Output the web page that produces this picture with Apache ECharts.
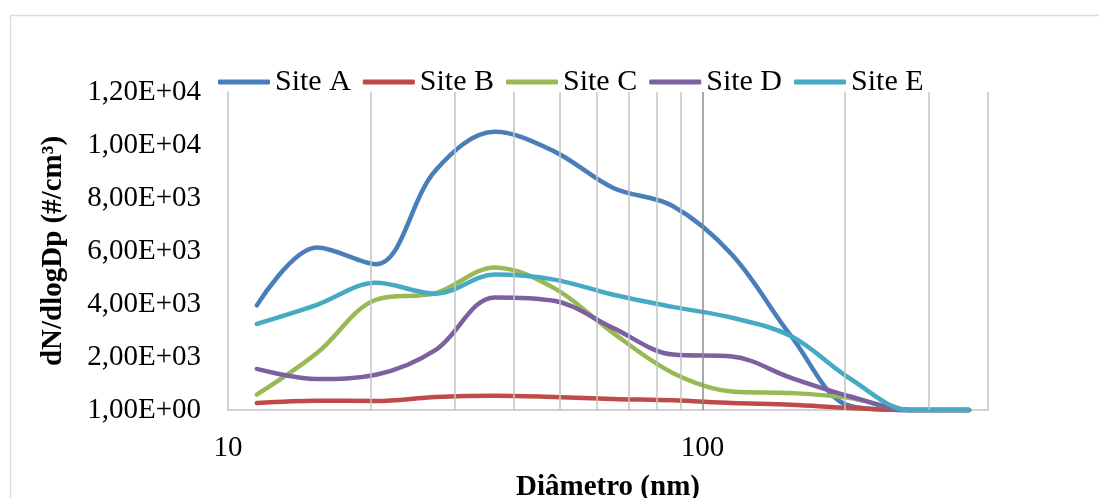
<!DOCTYPE html>
<html>
<head>
<meta charset="utf-8">
<script src="https://cdn.jsdelivr.net/npm/echarts@6/dist/echarts.min.js"></script>
<style>
html,body{margin:0;padding:0;background:#fff;}
#chart{width:1099px;height:498px;}
</style>
</head>
<body>
<div id="chart"></div>
<script>
// Diameters (nm)
var diameters = [11.5, 15.4, 20.5, 27.4, 36.5, 48.7, 64.9, 86.6, 115.5, 154, 205, 274, 365];
var siteNames = ['Site A', 'Site B', 'Site C', 'Site D', 'Site E'];
var siteA = [3950, 6130, 5500, 9050, 10500, 9760, 8380, 7700, 5860, 2780, 150, 0, 0];
var siteB = [260, 350, 340, 490, 540, 490, 415, 365, 265, 200, 75, 0, 0];
var siteC = [580, 2150, 4160, 4410, 5380, 4600, 2900, 1400, 700, 640, 450, 0, 0];
var siteD = [1550, 1170, 1330, 2270, 4250, 4120, 3090, 2090, 2020, 1210, 510, 0, 0];
var siteE = [3250, 3970, 4800, 4390, 5110, 4920, 4350, 3890, 3480, 2780, 1180, 0, 0];
var yTickLabels = ['1,00E+00', '2,00E+03', '4,00E+03', '6,00E+03', '8,00E+03', '1,00E+04', '1,20E+04'];
var minorGrid = [20, 30, 40, 50, 60, 70, 80, 90, 200, 300, 400];
var majorGrid = [100];
var colors = ['#4A7EBB', '#BE4B48', '#98B954', '#7D60A0', '#46AAC5'];

var FONT = "'Liberation Serif', 'Times New Roman', serif";
var chart = echarts.init(document.getElementById('chart'), null, {renderer: 'canvas'});

function pairs(vals) {
  return diameters.map(function (d, i) { return [d, vals[i]]; });
}
var allVals = [siteA, siteB, siteC, siteD, siteE];

var series = [{
  type: 'line',
  data: [],
  z: 1,
  silent: true,
  markLine: {
    silent: true,
    symbol: ['none', 'none'],
    label: {show: false},
    animation: false,
    lineStyle: {type: 'solid', color: '#c3c3c3', width: 1.5},
    data: minorGrid.map(function (v) { return {xAxis: v}; }).concat(
      majorGrid.map(function (v) { return {xAxis: v, lineStyle: {color: '#8c8c8c', width: 1.5, type: 'solid'}}; }))
  }
}];
siteNames.forEach(function (n, i) {
  series.push({
    name: n,
    type: 'line',
    data: pairs(allVals[i]),
    smooth: 0.35,
    symbol: 'none',
    clip: false,
    z: 3,
    lineStyle: {width: 4.5, color: colors[i], cap: 'round', join: 'round'},
    itemStyle: {color: colors[i]}
  });
});

chart.setOption({
  animation: false,
  backgroundColor: '#fff',
  graphic: [{
    type: 'rect',
    left: 8, top: 13,
    shape: {width: 1200, height: 600},
    style: {fill: 'none', stroke: '#d9d9d9', lineWidth: 1.3},
    silent: true
  }],
  legend: {
    data: siteNames,
    left: 213,
    top: 62,
    icon: 'roundRect',
    itemWidth: 52,
    itemHeight: 5,
    itemGap: 12,
    textStyle: {fontFamily: FONT, fontSize: 30, color: '#000'}
  },
  grid: {left: 228, right: 111, top: 92, bottom: 88, containLabel: false, outerBoundsMode: 'none'},
  xAxis: {
    type: 'log',
    logBase: 10,
    min: 10,
    max: 400,
    name: 'Diâmetro (nm)',
    nameLocation: 'middle',
    nameGap: 63,
    nameTextStyle: {fontFamily: FONT, fontSize: 29, fontWeight: 'bold', color: '#000'},
    axisLine: {show: true, lineStyle: {color: '#c3c3c3', width: 1.5}},
    axisTick: {show: false},
    splitLine: {show: false},
    axisLabel: {
      fontFamily: FONT, fontSize: 29, color: '#000', margin: 24,
      showMaxLabel: false,
      formatter: function (v) { return String(Math.round(v)); }
    }
  },
  yAxis: {
    type: 'value',
    min: 0,
    max: 12000,
    interval: 2000,
    name: 'dN/dlogDp (#/cm³)',
    nameLocation: 'middle',
    nameGap: 160,
    nameTextStyle: {fontFamily: FONT, fontSize: 29, fontWeight: 'bold', color: '#000'},
    axisLine: {show: true, lineStyle: {color: '#c3c3c3', width: 1.5}},
    axisTick: {show: false},
    splitLine: {show: false},
    axisLabel: {
      fontFamily: FONT, fontSize: 29, color: '#000', margin: 27,
      formatter: function (v) { return yTickLabels[Math.round(v / 2000)]; }
    }
  },
  series: series
});
</script>
</body>
</html>
